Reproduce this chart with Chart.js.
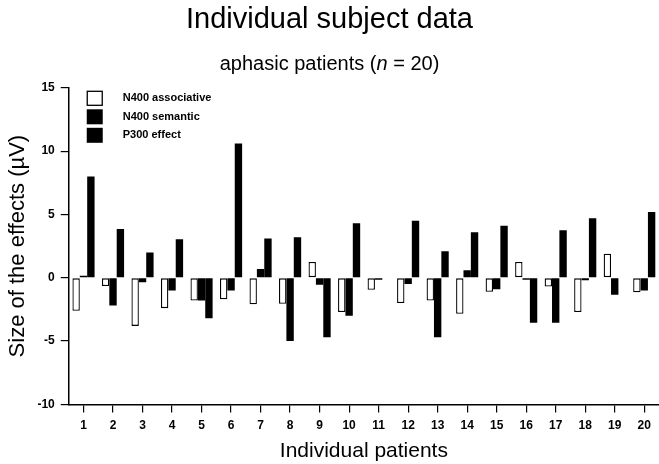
<!DOCTYPE html>
<html lang="en">

<head>
    <meta charset="UTF-8">
    <title>Individual subject data</title>
    <script src="https://cdn.jsdelivr.net/npm/chart.js"></script>
    <style>
        body { margin: 0; background: #fff; }
    </style>
</head>

<body>
    <canvas id="subjectChart" width="659" height="464"></canvas>

    <script>
        // Data (µV)
        const patients = ['1', '2', '3', '4', '5', '6', '7', '8', '9', '10',
            '11', '12', '13', '14', '15', '16', '17', '18', '19', '20'];
        const n400Associative = [-2.6, -0.65, -3.8, -2.4, -1.8, -1.7, -2.1, -2.05, 1.25, -2.7,
            -0.95, -2.0, -1.8, -2.85, -1.1, 1.25, -0.7, -2.7, 1.9, -1.15];
        const n400Semantic = [0.15, -2.2, -0.35, -1.0, -1.8, -1.0, 0.7, -5.0, -0.55, -3.0,
            -0.15, -0.5, -4.7, 0.6, -0.9, -0.15, -3.55, -0.2, -1.35, -1.0];
        const p300Effect = [8.0, 3.85, 2.0, 3.05, -3.2, 10.6, 3.1, 3.2, -4.7, 4.3,
            0, 4.5, 2.1, 3.6, 4.1, -3.55, 3.75, 4.7, 0, 5.2];
        const yTicks = [-10, -5, 0, 5, 10, 15];

        const fontFamily = '"Liberation Sans", Arial, Helvetica, sans-serif';

        // subtitle with the italic n, drawn under the main title
        const subtitlePlugin = {
            id: 'subtitleItalic',
            afterDraw(chart) {
                const ctx = chart.ctx;
                const parts = [
                    { text: 'aphasic patients (', style: 'normal' },
                    { text: 'n', style: 'italic' },
                    { text: ' = 20)', style: 'normal' }
                ];
                ctx.save();
                let total = 0;
                parts.forEach(p => {
                    ctx.font = p.style + ' 20px ' + fontFamily;
                    p.w = ctx.measureText(p.text).width;
                    total += p.w;
                });
                let x = chart.width / 2 - total / 2;
                ctx.fillStyle = '#000';
                ctx.textBaseline = 'middle';
                parts.forEach(p => {
                    ctx.font = p.style + ' 20px ' + fontFamily;
                    ctx.fillText(p.text, x, 64);
                    x += p.w;
                });
                ctx.restore();
            }
        };

        // legend in the top-left corner of the plot, boxes stacked
        const boxLegendPlugin = {
            id: 'boxLegend',
            afterDraw(chart) {
                const ctx = chart.ctx;
                const area = chart.chartArea;
                ctx.save();
                chart.data.datasets.forEach((ds, i) => {
                    const x = area.left + 18;
                    const y = area.top + 3 + i * 18.5;
                    ctx.fillStyle = ds.backgroundColor;
                    ctx.fillRect(x, y, 16, 15);
                    if (ds.borderWidth) {
                        ctx.strokeStyle = ds.borderColor;
                        ctx.lineWidth = 1.3;
                        ctx.strokeRect(x + 0.5, y + 0.5, 15, 14);
                    }
                    ctx.fillStyle = '#000';
                    ctx.font = 'bold 11px ' + fontFamily;
                    ctx.textBaseline = 'middle';
                    ctx.fillText(ds.label, x + 36, y + 7.5);
                });
                ctx.restore();
            }
        };

        const ctx = document.getElementById('subjectChart').getContext('2d');
        const chart = new Chart(ctx, {
            type: 'bar',
            data: {
                labels: patients,
                datasets: [{
                    label: 'N400 associative',
                    data: n400Associative,
                    backgroundColor: '#ffffff',
                    borderColor: '#000000',
                    borderWidth: 1.3,
                    borderSkipped: false
                }, {
                    label: 'N400 semantic',
                    data: n400Semantic,
                    backgroundColor: '#000000',
                    borderWidth: 0
                }, {
                    label: 'P300 effect',
                    data: p300Effect,
                    backgroundColor: '#000000',
                    borderWidth: 0
                }]
            },
            options: {
                responsive: false,
                animation: false,
                categoryPercentage: 0.75,
                barPercentage: 1.0,
                layout: {
                    padding: { left: 0, right: 0, top: 0, bottom: 0 }
                },
                plugins: {
                    legend: { display: false },
                    tooltip: { enabled: false },
                    title: {
                        display: true,
                        text: 'Individual subject data',
                        color: '#000',
                        font: { family: fontFamily, size: 29, weight: 'normal' },
                        padding: { top: 3, bottom: 50 }
                    }
                },
                scales: {
                    x: {
                        grid: {
                            offset: false,
                            drawOnChartArea: false,
                            drawTicks: true,
                            tickLength: 8,
                            color: '#000',
                            lineWidth: 1.2
                        },
                        border: { display: true, color: '#000', width: 1.5 },
                        ticks: {
                            color: '#000',
                            padding: 6,
                            maxRotation: 0,
                            autoSkip: false,
                            font: { family: fontFamily, size: 12, weight: 'bold' }
                        },
                        title: {
                            display: true,
                            text: 'Individual patients',
                            color: '#000',
                            font: { family: fontFamily, size: 21 },
                            padding: { top: 0, bottom: 0 }
                        }
                    },
                    y: {
                        min: yTicks[0],
                        max: yTicks[yTicks.length - 1],
                        afterBuildTicks: axis => {
                            axis.ticks = yTicks.map(v => ({ value: v }));
                        },
                        grid: {
                            drawOnChartArea: false,
                            drawTicks: true,
                            tickLength: 8,
                            color: '#000',
                            lineWidth: 1.2
                        },
                        border: { display: true, color: '#000', width: 1.5 },
                        ticks: {
                            color: '#000',
                            padding: 6,
                            font: { family: fontFamily, size: 12, weight: 'bold' }
                        },
                        title: {
                            display: true,
                            text: 'Size of the effects (\u00b5V)',
                            color: '#000',
                            font: { family: fontFamily, size: 22 },
                            padding: { top: 5, bottom: 0 }
                        }
                    }
                }
            },
            plugins: [subtitlePlugin, boxLegendPlugin]
        });
    </script>
</body>

</html>
